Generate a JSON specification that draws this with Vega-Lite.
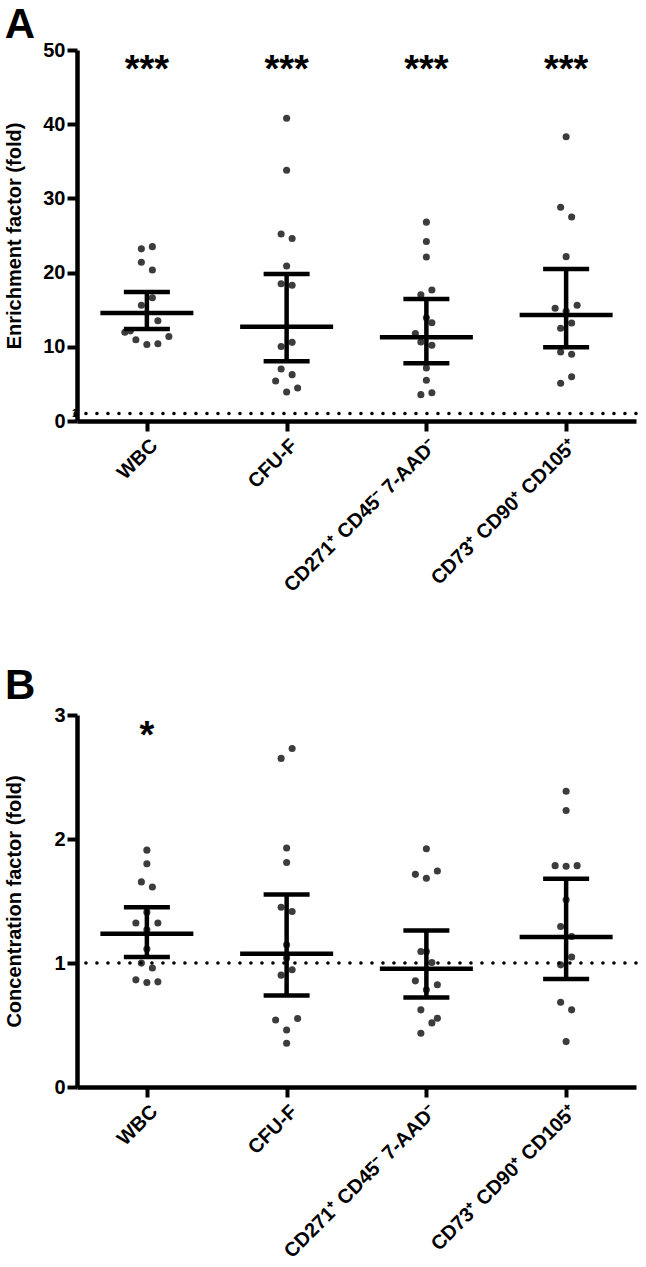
{
  "$schema": "https://vega.github.io/schema/vega-lite/v6.json",
  "background": "white",
  "padding": {"left": 4, "top": 4, "right": 5, "bottom": 0},
  "config": {
    "view": {"stroke": null},
    "font": "Liberation Sans",
    "axis": {
      "domainColor": "black", "domainWidth": 4.5, "tickColor": "black", "tickWidth": 4, "tickSize": 10,
      "labelColor": "black", "labelFont": "Liberation Sans", "labelFontWeight": "bold", "labelFontSize": 20,
      "titleFont": "Liberation Sans", "titleFontWeight": "bold", "titleFontSize": 20, "titleColor": "black",
      "grid": false, "labelPadding": 2
    },
    "title": {"font": "Liberation Sans", "fontWeight": "bold", "fontSize": 42, "color": "black", "anchor": "start", "frame": "bounds"}
  },
  "datasets": {
    "pts": [
      {"panel": "A", "group": "WBC", "value": 23.2, "swarm": -1},
      {"panel": "A", "group": "WBC", "value": 23.5, "swarm": 1},
      {"panel": "A", "group": "WBC", "value": 21.4, "swarm": -1},
      {"panel": "A", "group": "WBC", "value": 20.35, "swarm": 1},
      {"panel": "A", "group": "WBC", "value": 16.6, "swarm": 1},
      {"panel": "A", "group": "WBC", "value": 15.6, "swarm": -1},
      {"panel": "A", "group": "WBC", "value": 13.5, "swarm": 2},
      {"panel": "A", "group": "WBC", "value": 11.95, "swarm": -4},
      {"panel": "A", "group": "WBC", "value": 12.15, "swarm": -3},
      {"panel": "A", "group": "WBC", "value": 10.95, "swarm": -2},
      {"panel": "A", "group": "WBC", "value": 10.3, "swarm": 0},
      {"panel": "A", "group": "WBC", "value": 10.4, "swarm": 2},
      {"panel": "A", "group": "WBC", "value": 11.4, "swarm": 4},
      {"panel": "A", "group": "CFU-F", "value": 40.8, "swarm": 0},
      {"panel": "A", "group": "CFU-F", "value": 33.8, "swarm": 0},
      {"panel": "A", "group": "CFU-F", "value": 25.2, "swarm": -1},
      {"panel": "A", "group": "CFU-F", "value": 24.6, "swarm": 1},
      {"panel": "A", "group": "CFU-F", "value": 20.9, "swarm": 0},
      {"panel": "A", "group": "CFU-F", "value": 18.5, "swarm": -1},
      {"panel": "A", "group": "CFU-F", "value": 18.3, "swarm": 1},
      {"panel": "A", "group": "CFU-F", "value": 10.6, "swarm": 1},
      {"panel": "A", "group": "CFU-F", "value": 10.05, "swarm": -1},
      {"panel": "A", "group": "CFU-F", "value": 7.0, "swarm": -1},
      {"panel": "A", "group": "CFU-F", "value": 6.25, "swarm": 1},
      {"panel": "A", "group": "CFU-F", "value": 5.4, "swarm": -2},
      {"panel": "A", "group": "CFU-F", "value": 4.45, "swarm": 2},
      {"panel": "A", "group": "CFU-F", "value": 3.9, "swarm": 0},
      {"panel": "A", "group": "CD271\u207a CD45\u207b 7-AAD\u207b", "value": 26.8, "swarm": 0},
      {"panel": "A", "group": "CD271\u207a CD45\u207b 7-AAD\u207b", "value": 24.2, "swarm": 0},
      {"panel": "A", "group": "CD271\u207a CD45\u207b 7-AAD\u207b", "value": 22.1, "swarm": 0},
      {"panel": "A", "group": "CD271\u207a CD45\u207b 7-AAD\u207b", "value": 17.0, "swarm": -1},
      {"panel": "A", "group": "CD271\u207a CD45\u207b 7-AAD\u207b", "value": 17.65, "swarm": 1},
      {"panel": "A", "group": "CD271\u207a CD45\u207b 7-AAD\u207b", "value": 13.9, "swarm": 0},
      {"panel": "A", "group": "CD271\u207a CD45\u207b 7-AAD\u207b", "value": 13.25, "swarm": 1},
      {"panel": "A", "group": "CD271\u207a CD45\u207b 7-AAD\u207b", "value": 11.8, "swarm": -2},
      {"panel": "A", "group": "CD271\u207a CD45\u207b 7-AAD\u207b", "value": 10.65, "swarm": -1},
      {"panel": "A", "group": "CD271\u207a CD45\u207b 7-AAD\u207b", "value": 10.2, "swarm": 1},
      {"panel": "A", "group": "CD271\u207a CD45\u207b 7-AAD\u207b", "value": 7.14, "swarm": 0},
      {"panel": "A", "group": "CD271\u207a CD45\u207b 7-AAD\u207b", "value": 5.5, "swarm": 0},
      {"panel": "A", "group": "CD271\u207a CD45\u207b 7-AAD\u207b", "value": 3.55, "swarm": -1},
      {"panel": "A", "group": "CD271\u207a CD45\u207b 7-AAD\u207b", "value": 3.8, "swarm": 1},
      {"panel": "A", "group": "CD73\u207a CD90\u207a CD105\u207a", "value": 38.3, "swarm": 0},
      {"panel": "A", "group": "CD73\u207a CD90\u207a CD105\u207a", "value": 28.8, "swarm": -1},
      {"panel": "A", "group": "CD73\u207a CD90\u207a CD105\u207a", "value": 27.5, "swarm": 1},
      {"panel": "A", "group": "CD73\u207a CD90\u207a CD105\u207a", "value": 22.15, "swarm": 0},
      {"panel": "A", "group": "CD73\u207a CD90\u207a CD105\u207a", "value": 15.2, "swarm": -2},
      {"panel": "A", "group": "CD73\u207a CD90\u207a CD105\u207a", "value": 15.6, "swarm": 2},
      {"panel": "A", "group": "CD73\u207a CD90\u207a CD105\u207a", "value": 14.8, "swarm": 0},
      {"panel": "A", "group": "CD73\u207a CD90\u207a CD105\u207a", "value": 13.2, "swarm": 1},
      {"panel": "A", "group": "CD73\u207a CD90\u207a CD105\u207a", "value": 12.5, "swarm": -1},
      {"panel": "A", "group": "CD73\u207a CD90\u207a CD105\u207a", "value": 9.3, "swarm": -1},
      {"panel": "A", "group": "CD73\u207a CD90\u207a CD105\u207a", "value": 9.0, "swarm": 1},
      {"panel": "A", "group": "CD73\u207a CD90\u207a CD105\u207a", "value": 5.97, "swarm": 1},
      {"panel": "A", "group": "CD73\u207a CD90\u207a CD105\u207a", "value": 5.08, "swarm": -1},

      {"panel": "B", "group": "WBC", "value": 1.91, "swarm": 0},
      {"panel": "B", "group": "WBC", "value": 1.80, "swarm": 0},
      {"panel": "B", "group": "WBC", "value": 1.654, "swarm": -1},
      {"panel": "B", "group": "WBC", "value": 1.613, "swarm": 1},
      {"panel": "B", "group": "WBC", "value": 1.41, "swarm": 0},
      {"panel": "B", "group": "WBC", "value": 1.322, "swarm": -2},
      {"panel": "B", "group": "WBC", "value": 1.322, "swarm": 2},
      {"panel": "B", "group": "WBC", "value": 1.268, "swarm": 0},
      {"panel": "B", "group": "WBC", "value": 1.112, "swarm": 0},
      {"panel": "B", "group": "WBC", "value": 0.999, "swarm": -1},
      {"panel": "B", "group": "WBC", "value": 0.959, "swarm": 1},
      {"panel": "B", "group": "WBC", "value": 0.864, "swarm": -2},
      {"panel": "B", "group": "WBC", "value": 0.843, "swarm": 0},
      {"panel": "B", "group": "WBC", "value": 0.848, "swarm": 2},
      {"panel": "B", "group": "CFU-F", "value": 2.73, "swarm": 1},
      {"panel": "B", "group": "CFU-F", "value": 2.65, "swarm": -1},
      {"panel": "B", "group": "CFU-F", "value": 1.928, "swarm": 0},
      {"panel": "B", "group": "CFU-F", "value": 1.81, "swarm": 0},
      {"panel": "B", "group": "CFU-F", "value": 1.45, "swarm": -1},
      {"panel": "B", "group": "CFU-F", "value": 1.416, "swarm": 1},
      {"panel": "B", "group": "CFU-F", "value": 1.147, "swarm": 0},
      {"panel": "B", "group": "CFU-F", "value": 1.04, "swarm": 0},
      {"panel": "B", "group": "CFU-F", "value": 0.945, "swarm": 1},
      {"panel": "B", "group": "CFU-F", "value": 0.902, "swarm": -1},
      {"panel": "B", "group": "CFU-F", "value": 0.541, "swarm": -2},
      {"panel": "B", "group": "CFU-F", "value": 0.552, "swarm": 2},
      {"panel": "B", "group": "CFU-F", "value": 0.46, "swarm": 0},
      {"panel": "B", "group": "CFU-F", "value": 0.353, "swarm": 0},
      {"panel": "B", "group": "CD271\u207a CD45\u207b 7-AAD\u207b", "value": 1.922, "swarm": 0},
      {"panel": "B", "group": "CD271\u207a CD45\u207b 7-AAD\u207b", "value": 1.742, "swarm": 2},
      {"panel": "B", "group": "CD271\u207a CD45\u207b 7-AAD\u207b", "value": 1.715, "swarm": -2},
      {"panel": "B", "group": "CD271\u207a CD45\u207b 7-AAD\u207b", "value": 1.683, "swarm": 0},
      {"panel": "B", "group": "CD271\u207a CD45\u207b 7-AAD\u207b", "value": 1.093, "swarm": -1},
      {"panel": "B", "group": "CD271\u207a CD45\u207b 7-AAD\u207b", "value": 1.093, "swarm": 0},
      {"panel": "B", "group": "CD271\u207a CD45\u207b 7-AAD\u207b", "value": 1.004, "swarm": 1},
      {"panel": "B", "group": "CD271\u207a CD45\u207b 7-AAD\u207b", "value": 0.856, "swarm": -2},
      {"panel": "B", "group": "CD271\u207a CD45\u207b 7-AAD\u207b", "value": 0.824, "swarm": 2},
      {"panel": "B", "group": "CD271\u207a CD45\u207b 7-AAD\u207b", "value": 0.784, "swarm": 0},
      {"panel": "B", "group": "CD271\u207a CD45\u207b 7-AAD\u207b", "value": 0.622, "swarm": -1},
      {"panel": "B", "group": "CD271\u207a CD45\u207b 7-AAD\u207b", "value": 0.555, "swarm": 2},
      {"panel": "B", "group": "CD271\u207a CD45\u207b 7-AAD\u207b", "value": 0.517, "swarm": 1},
      {"panel": "B", "group": "CD271\u207a CD45\u207b 7-AAD\u207b", "value": 0.434, "swarm": -1},
      {"panel": "B", "group": "CD73\u207a CD90\u207a CD105\u207a", "value": 2.385, "swarm": 0},
      {"panel": "B", "group": "CD73\u207a CD90\u207a CD105\u207a", "value": 2.23, "swarm": 0},
      {"panel": "B", "group": "CD73\u207a CD90\u207a CD105\u207a", "value": 1.785, "swarm": -2},
      {"panel": "B", "group": "CD73\u207a CD90\u207a CD105\u207a", "value": 1.78, "swarm": 0},
      {"panel": "B", "group": "CD73\u207a CD90\u207a CD105\u207a", "value": 1.785, "swarm": 2},
      {"panel": "B", "group": "CD73\u207a CD90\u207a CD105\u207a", "value": 1.51, "swarm": 0},
      {"panel": "B", "group": "CD73\u207a CD90\u207a CD105\u207a", "value": 1.295, "swarm": -1},
      {"panel": "B", "group": "CD73\u207a CD90\u207a CD105\u207a", "value": 1.214, "swarm": 1},
      {"panel": "B", "group": "CD73\u207a CD90\u207a CD105\u207a", "value": 1.048, "swarm": 1},
      {"panel": "B", "group": "CD73\u207a CD90\u207a CD105\u207a", "value": 0.985, "swarm": -1},
      {"panel": "B", "group": "CD73\u207a CD90\u207a CD105\u207a", "value": 0.684, "swarm": -1},
      {"panel": "B", "group": "CD73\u207a CD90\u207a CD105\u207a", "value": 0.622, "swarm": 1},
      {"panel": "B", "group": "CD73\u207a CD90\u207a CD105\u207a", "value": 0.366, "swarm": 0}
    ],
    "stats": [
      {"panel": "A", "group": "WBC", "center": 14.56, "low": 12.4, "high": 17.39},
      {"panel": "A", "group": "CFU-F", "center": 12.7, "low": 8.05, "high": 19.8},
      {"panel": "A", "group": "CD271\u207a CD45\u207b 7-AAD\u207b", "center": 11.28, "low": 7.77, "high": 16.44},
      {"panel": "A", "group": "CD73\u207a CD90\u207a CD105\u207a", "center": 14.29, "low": 9.93, "high": 20.5},
      {"panel": "B", "group": "WBC", "center": 1.236, "low": 1.048, "high": 1.45},
      {"panel": "B", "group": "CFU-F", "center": 1.074, "low": 0.738, "high": 1.553},
      {"panel": "B", "group": "CD271\u207a CD45\u207b 7-AAD\u207b", "center": 0.953, "low": 0.721, "high": 1.263},
      {"panel": "B", "group": "CD73\u207a CD90\u207a CD105\u207a", "center": 1.209, "low": 0.87, "high": 1.68}
    ],
    "stars": [
      {"panel": "A", "group": "WBC", "label": "***"},
      {"panel": "A", "group": "CFU-F", "label": "***"},
      {"panel": "A", "group": "CD271\u207a CD45\u207b 7-AAD\u207b", "label": "***"},
      {"panel": "A", "group": "CD73\u207a CD90\u207a CD105\u207a", "label": "***"},
      {"panel": "B", "group": "WBC", "label": "*"}
    ],
    "reference": [
      {"fold": 1}
    ]
  },
  "spacing": 69,
  "vconcat": [
    {
      "title": {"text": "A", "offset": -7},
      "width": 559,
      "height": 371,
      "layer": [
        {
          "data": {"name": "pts"},
          "transform": [{"filter": "datum.panel == 'A'"}],
          "mark": {"type": "circle", "size": 50, "color": "#3c3c3c", "opacity": 1},
          "encoding": {
            "x": {"field": "group", "type": "nominal", "sort": ["WBC", "CFU-F", "CD271\u207a CD45\u207b 7-AAD\u207b", "CD73\u207a CD90\u207a CD105\u207a"], "scale": {"type": "point", "padding": 0.5}, "title": null,
                  "axis": {"labelAngle": -45, "labelLimit": 400, "labelPadding": 4}},
            "xOffset": {"field": "swarm", "type": "quantitative", "scale": {"domain": [-4, 4], "range": [-22, 22]}},
            "y": {"field": "value", "type": "quantitative", "title": "Enrichment factor (fold)", "scale": {"domain": [0, 50], "nice": false},
                  "axis": {"values": [0, 1, 10, 20, 30, 40, 50], "labelOverlap": false, "labelFlush": false, "titlePadding": 18,
                           "labelFontSize": {"condition": {"test": "datum.value == 1", "value": 10}, "value": 20},
                           "labelPadding": {"condition": {"test": "datum.value == 1", "value": -4}, "value": 2},
                           "tickSize": {"condition": {"test": "datum.value == 1", "value": 4}, "value": 10}}}
          }
        },
        {
          "data": {"name": "stats"},
          "transform": [{"filter": "datum.panel == 'A'"}],
          "mark": {"type": "rule", "strokeWidth": 4.5, "color": "black"},
          "encoding": {
            "x": {"field": "group", "type": "nominal", "sort": ["WBC", "CFU-F", "CD271\u207a CD45\u207b 7-AAD\u207b", "CD73\u207a CD90\u207a CD105\u207a"], "title": null},
            "y": {"field": "low", "type": "quantitative", "title": "Enrichment factor (fold)"},
            "y2": {"field": "high"}
          }
        },
        {
          "data": {"name": "stats"},
          "transform": [{"filter": "datum.panel == 'A'"}],
          "mark": {"type": "tick", "size": 93, "thickness": 4.5, "color": "black", "opacity": 1},
          "encoding": {
            "x": {"field": "group", "type": "nominal", "sort": ["WBC", "CFU-F", "CD271\u207a CD45\u207b 7-AAD\u207b", "CD73\u207a CD90\u207a CD105\u207a"], "title": null},
            "y": {"field": "center", "type": "quantitative", "title": "Enrichment factor (fold)"}
          }
        },
        {
          "data": {"name": "stats"},
          "transform": [{"filter": "datum.panel == 'A'"}],
          "mark": {"type": "tick", "size": 46, "thickness": 4.5, "color": "black", "opacity": 1},
          "encoding": {
            "x": {"field": "group", "type": "nominal", "sort": ["WBC", "CFU-F", "CD271\u207a CD45\u207b 7-AAD\u207b", "CD73\u207a CD90\u207a CD105\u207a"], "title": null},
            "y": {"field": "low", "type": "quantitative", "title": "Enrichment factor (fold)"}
          }
        },
        {
          "data": {"name": "stats"},
          "transform": [{"filter": "datum.panel == 'A'"}],
          "mark": {"type": "tick", "size": 46, "thickness": 4.5, "color": "black", "opacity": 1},
          "encoding": {
            "x": {"field": "group", "type": "nominal", "sort": ["WBC", "CFU-F", "CD271\u207a CD45\u207b 7-AAD\u207b", "CD73\u207a CD90\u207a CD105\u207a"], "title": null},
            "y": {"field": "high", "type": "quantitative", "title": "Enrichment factor (fold)"}
          }
        },
        {
          "data": {"name": "reference"},
          "mark": {"type": "rule", "strokeDash": [0.1, 10.9], "strokeCap": "round", "strokeWidth": 3.5, "color": "black"},
          "encoding": {"y": {"field": "fold", "type": "quantitative", "title": "Enrichment factor (fold)"}}
        },
        {
          "data": {"name": "stars"},
          "transform": [{"filter": "datum.panel == 'A'"}],
          "mark": {"type": "text", "fontSize": 38, "fontWeight": "bold", "color": "black", "baseline": "alphabetic", "align": "center"},
          "encoding": {
            "x": {"field": "group", "type": "nominal", "sort": ["WBC", "CFU-F", "CD271\u207a CD45\u207b 7-AAD\u207b", "CD73\u207a CD90\u207a CD105\u207a"], "title": null},
            "y": {"datum": 45.65},
            "text": {"field": "label"}
          }
        }
      ]
    },
    {
      "title": {"text": "B", "offset": -3},
      "width": 559,
      "height": 372,
      "layer": [
        {
          "data": {"name": "pts"},
          "transform": [{"filter": "datum.panel == 'B'"}],
          "mark": {"type": "circle", "size": 50, "color": "#3c3c3c", "opacity": 1},
          "encoding": {
            "x": {"field": "group", "type": "nominal", "sort": ["WBC", "CFU-F", "CD271\u207a CD45\u207b 7-AAD\u207b", "CD73\u207a CD90\u207a CD105\u207a"], "scale": {"type": "point", "padding": 0.5}, "title": null,
                  "axis": {"labelAngle": -45, "labelLimit": 400, "labelPadding": 4}},
            "xOffset": {"field": "swarm", "type": "quantitative", "scale": {"domain": [-4, 4], "range": [-22, 22]}},
            "y": {"field": "value", "type": "quantitative", "title": "Concentration factor (fold)", "scale": {"domain": [0, 3], "nice": false},
                  "axis": {"values": [0, 1, 2, 3], "format": "d", "labelOverlap": false, "labelFlush": false, "titlePadding": 29}}
          }
        },
        {
          "data": {"name": "stats"},
          "transform": [{"filter": "datum.panel == 'B'"}],
          "mark": {"type": "rule", "strokeWidth": 4.5, "color": "black"},
          "encoding": {
            "x": {"field": "group", "type": "nominal", "sort": ["WBC", "CFU-F", "CD271\u207a CD45\u207b 7-AAD\u207b", "CD73\u207a CD90\u207a CD105\u207a"], "title": null},
            "y": {"field": "low", "type": "quantitative", "title": "Concentration factor (fold)"},
            "y2": {"field": "high"}
          }
        },
        {
          "data": {"name": "stats"},
          "transform": [{"filter": "datum.panel == 'B'"}],
          "mark": {"type": "tick", "size": 93, "thickness": 4.5, "color": "black", "opacity": 1},
          "encoding": {
            "x": {"field": "group", "type": "nominal", "sort": ["WBC", "CFU-F", "CD271\u207a CD45\u207b 7-AAD\u207b", "CD73\u207a CD90\u207a CD105\u207a"], "title": null},
            "y": {"field": "center", "type": "quantitative", "title": "Concentration factor (fold)"}
          }
        },
        {
          "data": {"name": "stats"},
          "transform": [{"filter": "datum.panel == 'B'"}],
          "mark": {"type": "tick", "size": 46, "thickness": 4.5, "color": "black", "opacity": 1},
          "encoding": {
            "x": {"field": "group", "type": "nominal", "sort": ["WBC", "CFU-F", "CD271\u207a CD45\u207b 7-AAD\u207b", "CD73\u207a CD90\u207a CD105\u207a"], "title": null},
            "y": {"field": "low", "type": "quantitative", "title": "Concentration factor (fold)"}
          }
        },
        {
          "data": {"name": "stats"},
          "transform": [{"filter": "datum.panel == 'B'"}],
          "mark": {"type": "tick", "size": 46, "thickness": 4.5, "color": "black", "opacity": 1},
          "encoding": {
            "x": {"field": "group", "type": "nominal", "sort": ["WBC", "CFU-F", "CD271\u207a CD45\u207b 7-AAD\u207b", "CD73\u207a CD90\u207a CD105\u207a"], "title": null},
            "y": {"field": "high", "type": "quantitative", "title": "Concentration factor (fold)"}
          }
        },
        {
          "data": {"name": "reference"},
          "mark": {"type": "rule", "strokeDash": [0.1, 10.9], "strokeCap": "round", "strokeWidth": 3.5, "color": "black"},
          "encoding": {"y": {"field": "fold", "type": "quantitative", "title": "Concentration factor (fold)"}}
        },
        {
          "data": {"name": "stars"},
          "transform": [{"filter": "datum.panel == 'B'"}],
          "mark": {"type": "text", "fontSize": 38, "fontWeight": "bold", "color": "black", "baseline": "alphabetic", "align": "center"},
          "encoding": {
            "x": {"field": "group", "type": "nominal", "sort": ["WBC", "CFU-F", "CD271\u207a CD45\u207b 7-AAD\u207b", "CD73\u207a CD90\u207a CD105\u207a"], "title": null},
            "y": {"datum": 2.735},
            "text": {"field": "label"}
          }
        }
      ]
    }
  ]
}
